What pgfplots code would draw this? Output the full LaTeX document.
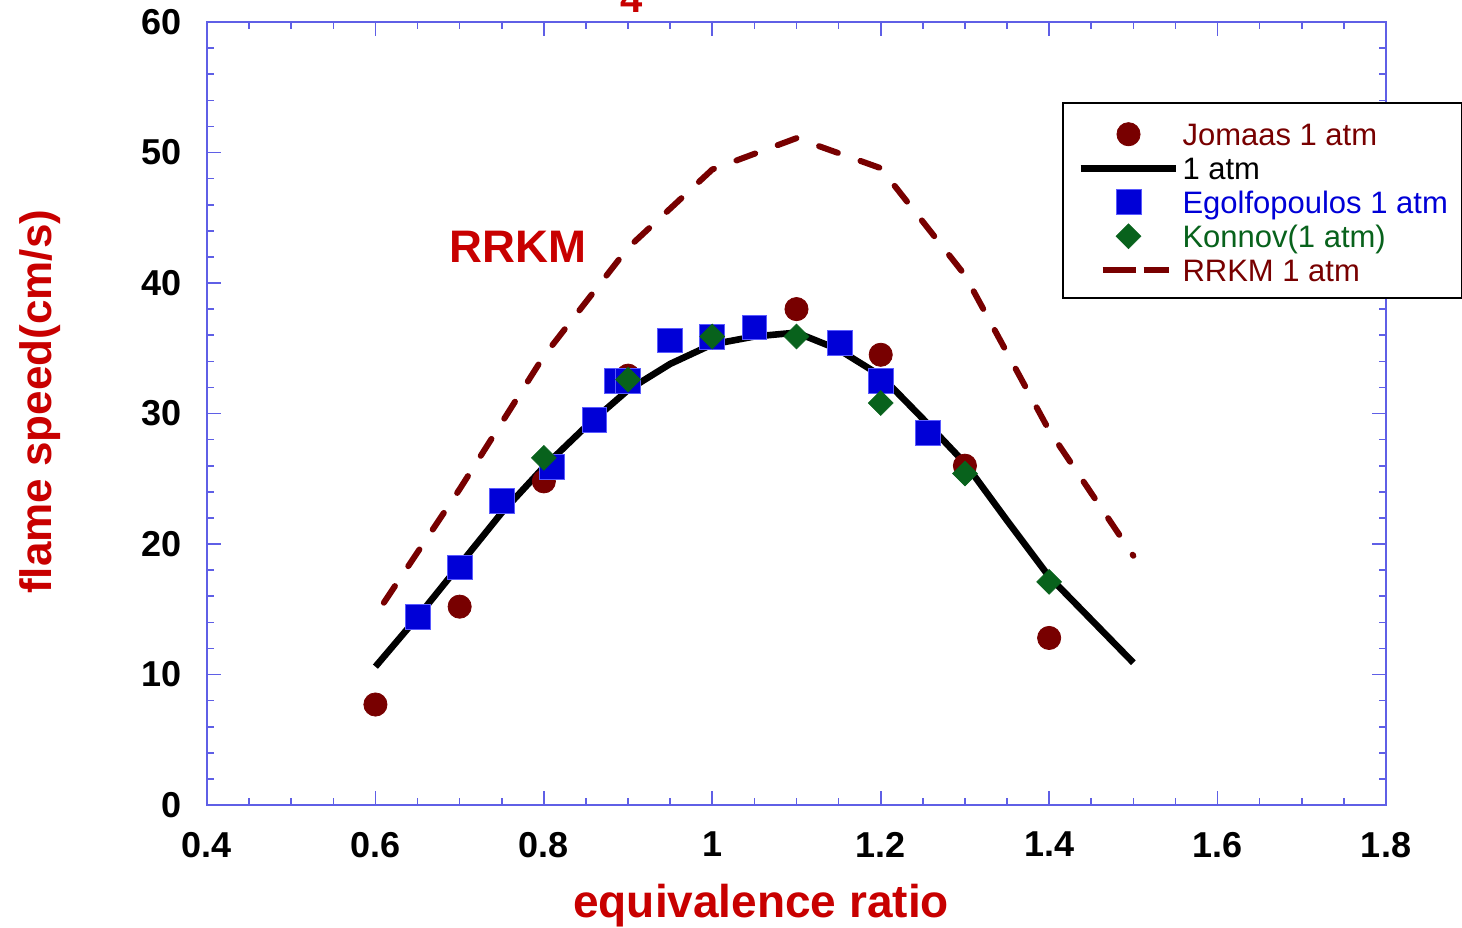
\documentclass[border=0pt]{standalone}
\usepackage{pgfplots}
\pgfplotsset{compat=1.18}
\usepackage{fontspec}
\setmainfont{Liberation Sans}

\definecolor{axisblue}{RGB}{95,95,230}
\definecolor{labelred}{RGB}{200,0,0}
\definecolor{jomaas}{RGB}{120,0,0}
\definecolor{egolf}{RGB}{0,0,215}
\definecolor{egolfedge}{RGB}{90,90,255}
\definecolor{konnov}{RGB}{8,98,28}

% legend images: a fixed-width slot so that all texts line up
\pgfplotsset{
  leg mark slot/.style={legend image code/.code={%
    \path[draw=none,fill=none] (0pt,-7.75pt) rectangle (51pt,9.25pt);
    \draw[mark repeat=2,mark phase=2,##1] plot coordinates {(0pt,0pt) (24pt,0pt) (48pt,0pt)};}},
  leg line slot/.style={legend image code/.code={%
    \path[draw=none,fill=none] (0pt,-7.75pt) rectangle (51pt,9.25pt);
    \draw[##1] (0pt,0pt) -- (47.5pt,0pt);}},
  leg dash slot/.style={legend image code/.code={%
    \path[draw=none,fill=none] (0pt,-7.75pt) rectangle (51pt,9.25pt);
    \draw[##1,solid,line cap=butt] (11pt,0pt) -- (27.5pt,0pt);
    \draw[##1,solid,line cap=butt] (31.5pt,0pt) -- (44pt,0pt);}},
}

\begin{document}
\begin{tikzpicture}
\begin{axis}[
  at={(0pt,0pt)}, anchor=south west,
  scale only axis, width=589.5pt, height=391.5pt,
  xmin=0.4, xmax=1.8, ymin=0, ymax=60,
  xtick={0.4,0.6,0.8,1,1.2,1.4,1.6,1.8},
  ytick={0,10,20,30,40,50,60},
  minor x tick num=3, minor y tick num=4,
  tick align=inside,
  major tick length=7pt, minor tick length=3.5pt,
  axis line style={axisblue, line width=0.8pt},
  tick style={axisblue, line width=0.8pt},
  /pgf/number format/assume math mode=true,
  tick label style={font=\fontsize{18}{21}\selectfont\bfseries, text=black},
  xticklabel style={yshift=-10pt},
  yticklabel style={xshift=-9pt},
  xlabel={equivalence ratio},
  ylabel={flame speed(cm/s)},
  xlabel style={at={(axis description cs:0.47,-0.144)}, anchor=base,
    font=\fontsize{23}{26}\selectfont\bfseries, text=labelred},
  ylabel style={at={(axis description cs:-0.1323,0.515)}, anchor=base,
    font=\fontsize{22}{26}\selectfont\bfseries, text=labelred},
  legend cell align=left,
  legend style={at={(axis description cs:0.7252,0.8978)}, anchor=north west,
    draw=black, line width=1.2pt, fill=white, inner xsep=7pt, inner ysep=6.25pt,
    row sep=0pt, font=\fontsize{15.5}{17}\selectfont,
    nodes={inner sep=0pt, text height=13pt, text depth=2pt}},
]

% model curve, 1 atm
\addplot[black, line width=3.3pt, line join=round, forget plot] coordinates {
  (0.60,10.6) (0.65,14.4) (0.70,18.4) (0.75,22.4) (0.80,25.9) (0.85,29.0)
  (0.90,31.8) (0.95,33.8) (1.00,35.3) (1.05,35.9) (1.10,36.2) (1.15,34.9)
  (1.20,32.9) (1.25,29.6) (1.30,26.2) (1.35,21.8) (1.40,17.5) (1.45,14.2)
  (1.50,10.9)};

% Jomaas measurements
\addplot[only marks, mark=*, mark size=5.8pt,
  mark options={fill=jomaas, draw=jomaas, line width=0.4pt}, leg mark slot] coordinates {
  (0.6,7.7) (0.7,15.2) (0.8,24.8) (0.9,32.9) (1.1,38.0) (1.2,34.5) (1.3,26.0) (1.4,12.8)};
\addlegendentry{\textcolor{jomaas}{Jomaas 1 atm}}

\addlegendimage{black, line width=3.3pt, leg line slot}
\addlegendentry{1 atm}

% Egolfopoulos measurements
\addplot[only marks, mark=square*, mark size=6.2pt,
  mark options={fill=egolf, draw=egolfedge, line width=0.4pt}, leg mark slot] coordinates {
  (0.65,14.4) (0.70,18.2) (0.75,23.3) (0.81,25.9) (0.86,29.5) (0.887,32.5) (0.90,32.5)
  (0.95,35.6) (1.00,35.9) (1.05,36.6) (1.152,35.4) (1.20,32.5) (1.256,28.5)};
\addlegendentry{\textcolor{egolf}{Egolfopoulos 1 atm}}

% Konnov measurements
\addplot[only marks, mark=square*, mark size=4.4pt,
  mark options={fill=konnov, draw=konnov, line width=0.3pt, rotate=45}, leg mark slot] coordinates {
  (0.8,26.6) (0.9,32.6) (1.0,35.9) (1.1,35.9) (1.2,30.8) (1.3,25.4) (1.4,17.1)};
\addlegendentry{\textcolor{konnov}{Konnov(1 atm)}}

% RRKM model
\addplot[jomaas, line width=3pt, line cap=round, line join=round,
  dash pattern=on 10pt off 12pt, leg dash slot] coordinates {
  (0.61,15.5) (0.7,24.2) (0.8,34.4) (0.9,42.7) (1.0,48.7) (1.1,51.1)
  (1.2,48.8) (1.3,40.6) (1.4,28.7) (1.5,19.1)};
\addlegendentry{\textcolor{jomaas}{RRKM 1 atm}}

\node[text=labelred, font=\fontsize{22.8}{24}\selectfont\bfseries] at (axis cs:0.769,42.8) {RRKM};
\end{axis}

\node[text=labelred, font=\fontsize{20}{20}\selectfont\bfseries, anchor=base] at (212.5pt,396pt) {4};

\pgfresetboundingbox
\useasboundingbox (-103.5pt,-61pt) rectangle (627.5pt,402.5pt);
\end{tikzpicture}
\end{document}
